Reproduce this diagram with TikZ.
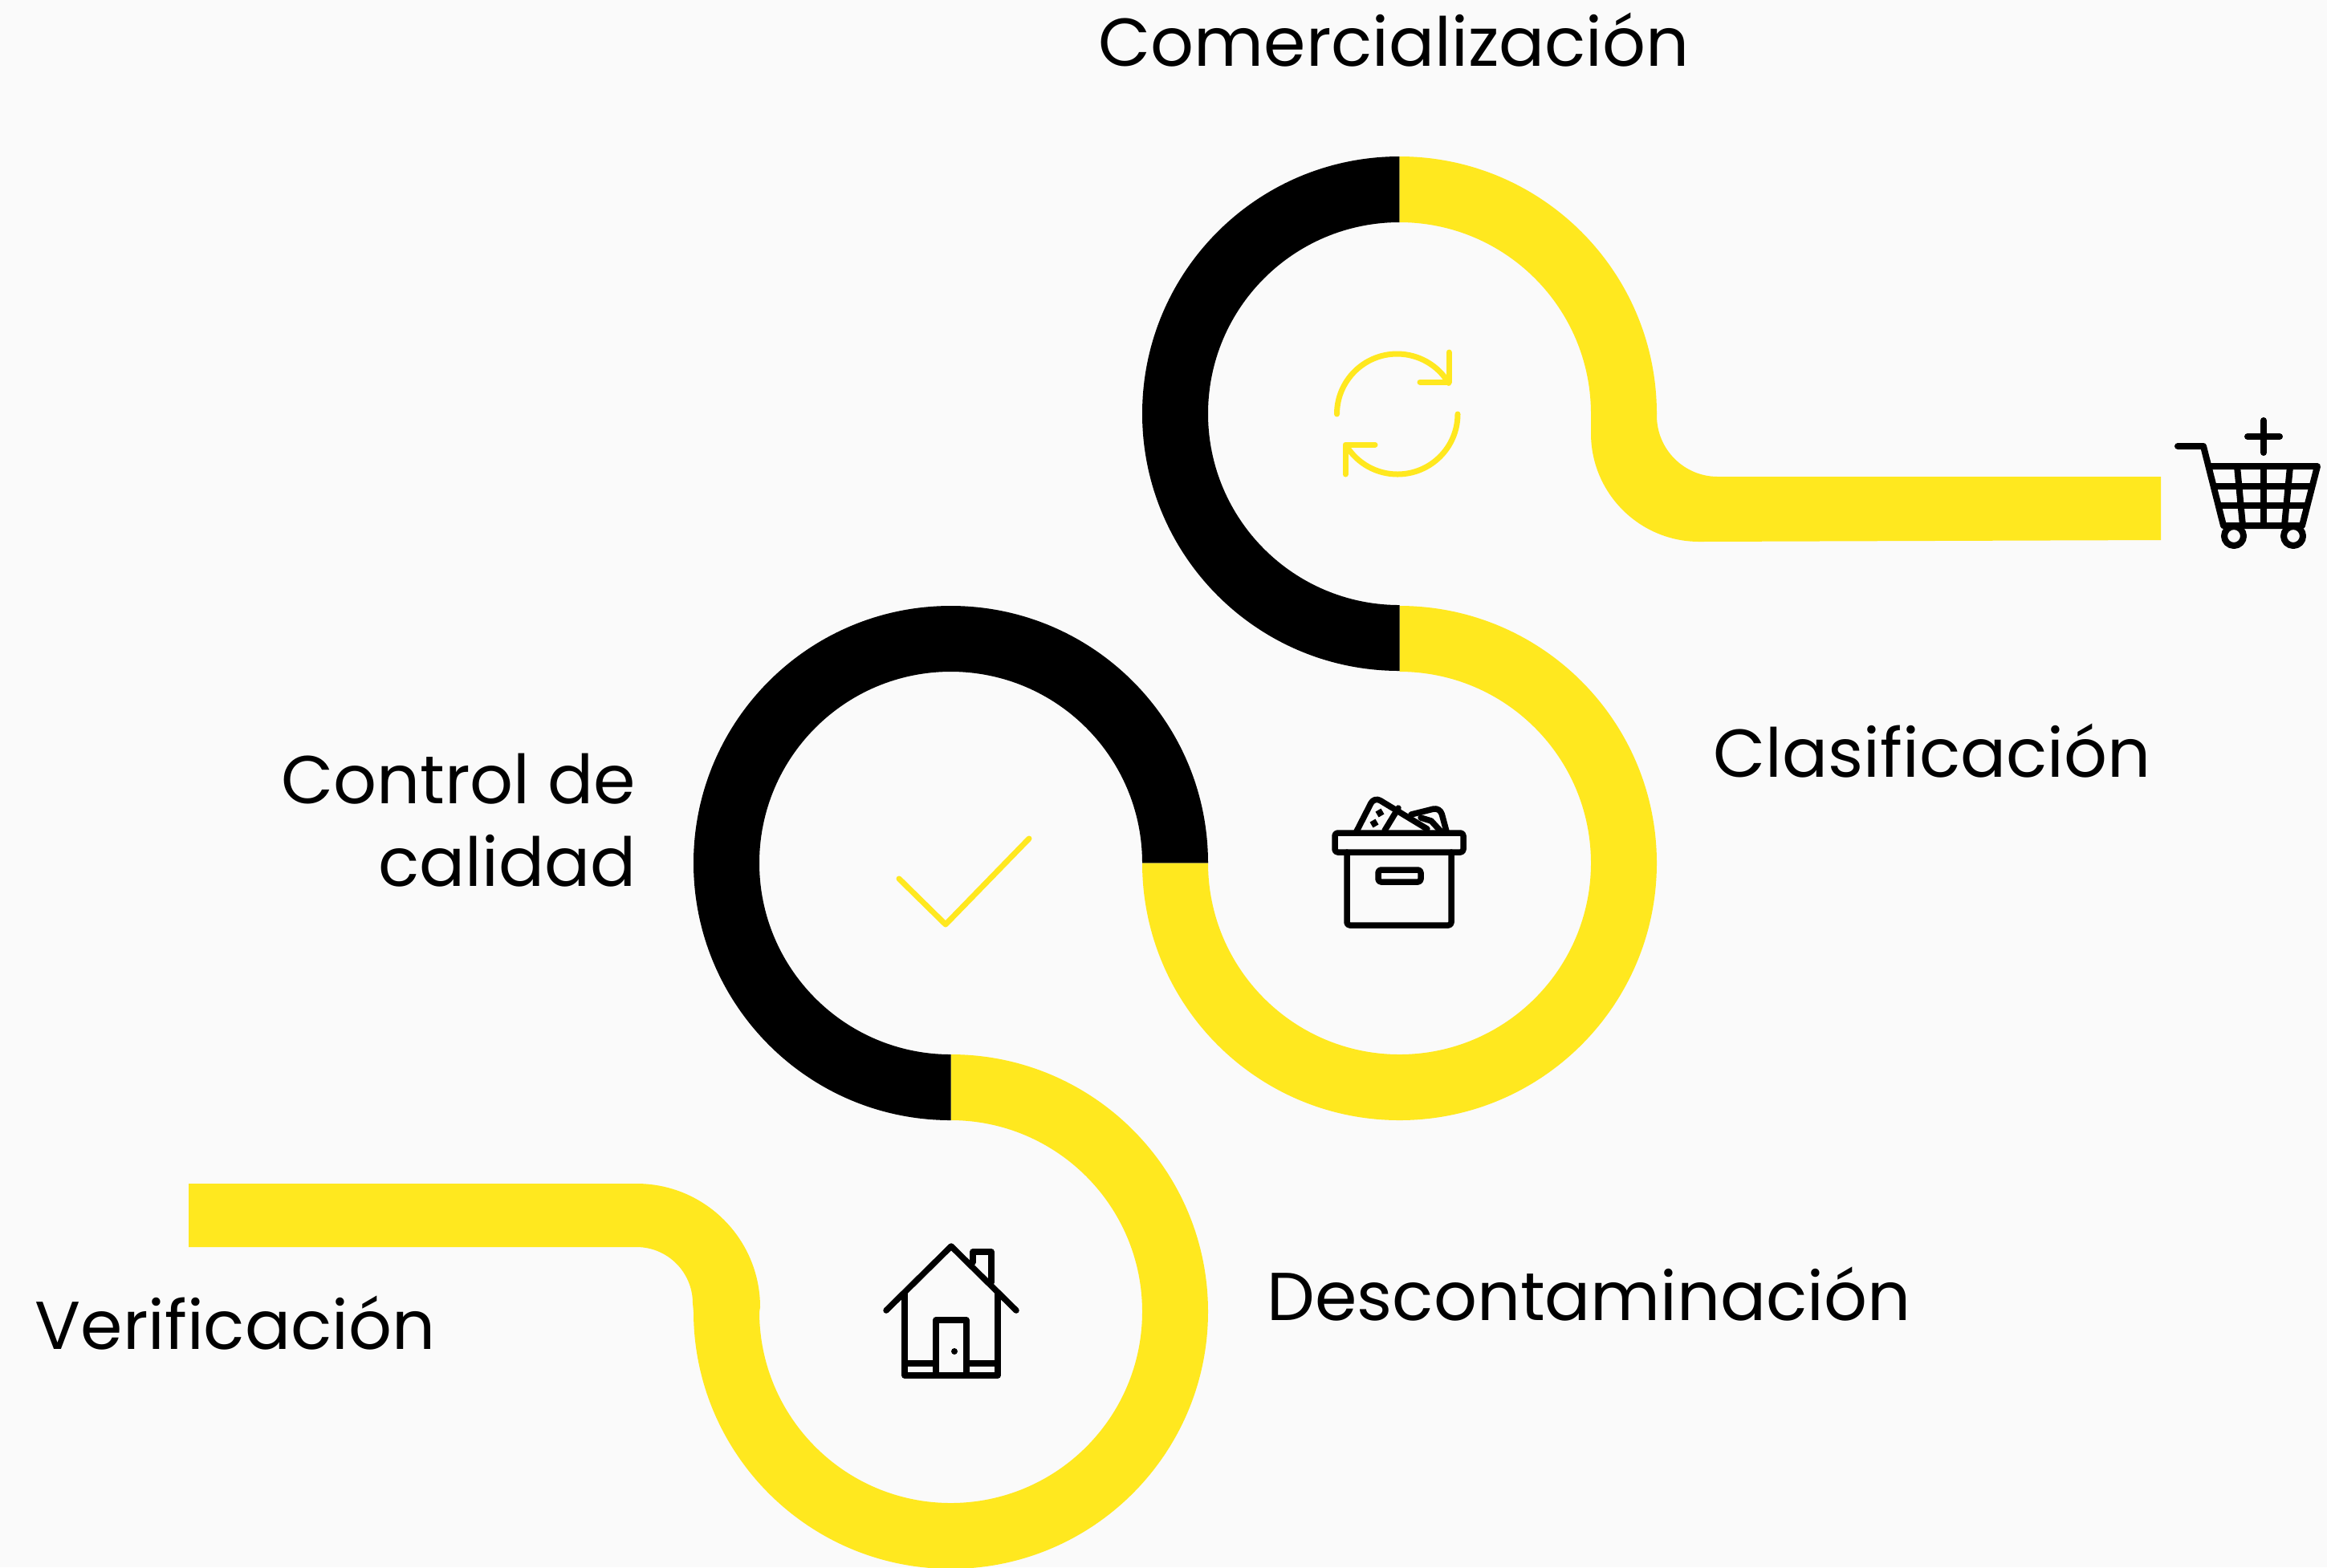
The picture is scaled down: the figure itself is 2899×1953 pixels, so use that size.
\documentclass[tikz,border=0pt]{standalone}
\usepackage{fontspec}
\setmainfont{Poppins}
\definecolor{bgpaper}{HTML}{FAFAFA}
\definecolor{snakeyellow}{HTML}{FFE81F}
\tikzset{
    label/.style={anchor=base west, inner sep=0pt, font=\fontsize{24}{29.3}\selectfont},
    iconline/.style={black, line width=0.075cm, line cap=round, line join=round},
    cartline/.style={iconline, line width=0.08cm},
    yellowline/.style={snakeyellow, line width=0.07cm, line cap=round, line join=round}
}
\newcommand{\ringarc}[4]{
    \fill[#4] ([shift={(#2:320.5)}]#1) arc[start angle=#2, end angle=#3, radius=320.5]
        -- ([shift={(#3:238.5)}]#1) arc[start angle=#3, end angle=#2, radius=238.5] -- cycle;
}
\newcommand{\carticon}{
    \draw[cartline] (2713,556) -- (2745,556) -- (2770,655) -- (2868,655) -- (2887,581) -- (2753,581);
    \draw[cartline] (2758,606) -- (2880,606);
    \draw[cartline] (2764,630) -- (2874,630);
    \draw[cartline] (2820,581) -- (2820,655);
    \draw[cartline] (2787,581) -- (2794,655);
    \draw[cartline] (2853,581) -- (2846,655);
    \draw[cartline, fill=bgpaper] (2783,668) circle[radius=12];
    \draw[cartline, fill=bgpaper] (2857,668) circle[radius=12];
    \draw[cartline] (2820,524) -- (2820,564);
    \draw[cartline] (2800,544) -- (2840,544);
}
\newcommand{\boxicon}{
    \draw[iconline, rounded corners=1pt] (1663,1038) rectangle (1823,1062);
    \draw[iconline, rounded corners=1pt] (1678,1062) -- (1678,1153) -- (1808,1153) -- (1808,1062);
    \draw[iconline, rounded corners=1pt] (1717,1084) rectangle (1770,1099);
    \draw[iconline, rounded corners=2.5pt] (1690,1036) -- (1712,993) -- (1778,1033);
    \draw[iconline] (1725,1035) -- (1742,1007);
    \draw[iconline, rounded corners=2.5pt] (1758,1015) -- (1794,1006) -- (1802,1036);
    \draw[iconline] (1770,1019) -- (1783,1023) -- (1795,1036);
    \fill[black, rotate around={30:(1719,1013)}] (1715,1009) rectangle (1723,1017);
    \fill[black, rotate around={30:(1712,1026)}] (1708,1022) rectangle (1716,1030);
}
\newcommand{\houseicon}{
    \draw[iconline] (1104,1633) -- (1185,1553) -- (1266,1633);
    \draw[iconline] (1127,1612) -- (1127,1714) -- (1243,1714) -- (1243,1612);
    \draw[iconline] (1166,1714) -- (1166,1645) -- (1204,1645) -- (1204,1714);
    \draw[iconline] (1127,1699) -- (1166,1699);
    \draw[iconline] (1204,1699) -- (1243,1699);
    \draw[iconline] (1212,1573) -- (1212,1560) -- (1235,1560) -- (1235,1598);
    \fill[black] (1189,1684) circle[radius=4];
}
\begin{document}
\begin{tikzpicture}[x=0.01cm, y=-0.01cm]
    \fill[bgpaper] (0,0) rectangle (2899,1953);
    \useasboundingbox (0,0) rectangle (2899,1953);
    \coordinate (houseC) at (1184.5,1634.5);
    \coordinate (checkC) at (1184.5,1075.5);
    \coordinate (boxC) at (1743.5,1075.5);
    \coordinate (cycleC) at (1743.5,515.5);
    \fill[snakeyellow] (235,1475) -- (793,1475) arc[start angle=-90, end angle=0, radius=154] -- (946,1635) -- (864,1635) -- (863,1624) arc[start angle=0, end angle=-90, radius=70] -- (235,1554) -- cycle;
    \ringarc{houseC}{-90}{180}{snakeyellow}
    \ringarc{checkC}{0}{-270}{black}
    \ringarc{boxC}{-90}{180}{snakeyellow}
    \ringarc{cycleC}{-90}{-270}{black}
    \ringarc{cycleC}{-90}{0}{snakeyellow}
    \fill[snakeyellow] (1982,515) -- (1982,540) arc[start angle=180, end angle=90, radius=135] -- (2692,673) -- (2692,594) -- (2140,594) arc[start angle=90, end angle=180, radius=76] -- (2064,515) -- cycle;
    \draw[yellowline] (1665.5,516) arc[start angle=180, end angle=329, radius=75];
    \draw[yellowline] (1805,439) -- (1805,476) -- (1769,476);
    \draw[yellowline] (1816,516) arc[start angle=0, end angle=148, radius=75];
    \draw[yellowline] (1713,554) -- (1676,554) -- (1676,591);
    \draw[yellowline] (1120,1095) -- (1178,1152) -- (1282,1045);
    \carticon
    \boxicon
    \houseicon
    \node[label] (comercial) at (1368,82) {Comercialización};
    \node[label] (clasif) at (2134,968) {Clasificación};
    \node[label] (descont) at (1578,1645) {Descontaminación};
    \node[label] (verif) at (43,1681) {Verificación};
    \node[label, anchor=east, align=right] (control) at (793,1022) {Control de\\calidad};
\end{tikzpicture}
\end{document}
